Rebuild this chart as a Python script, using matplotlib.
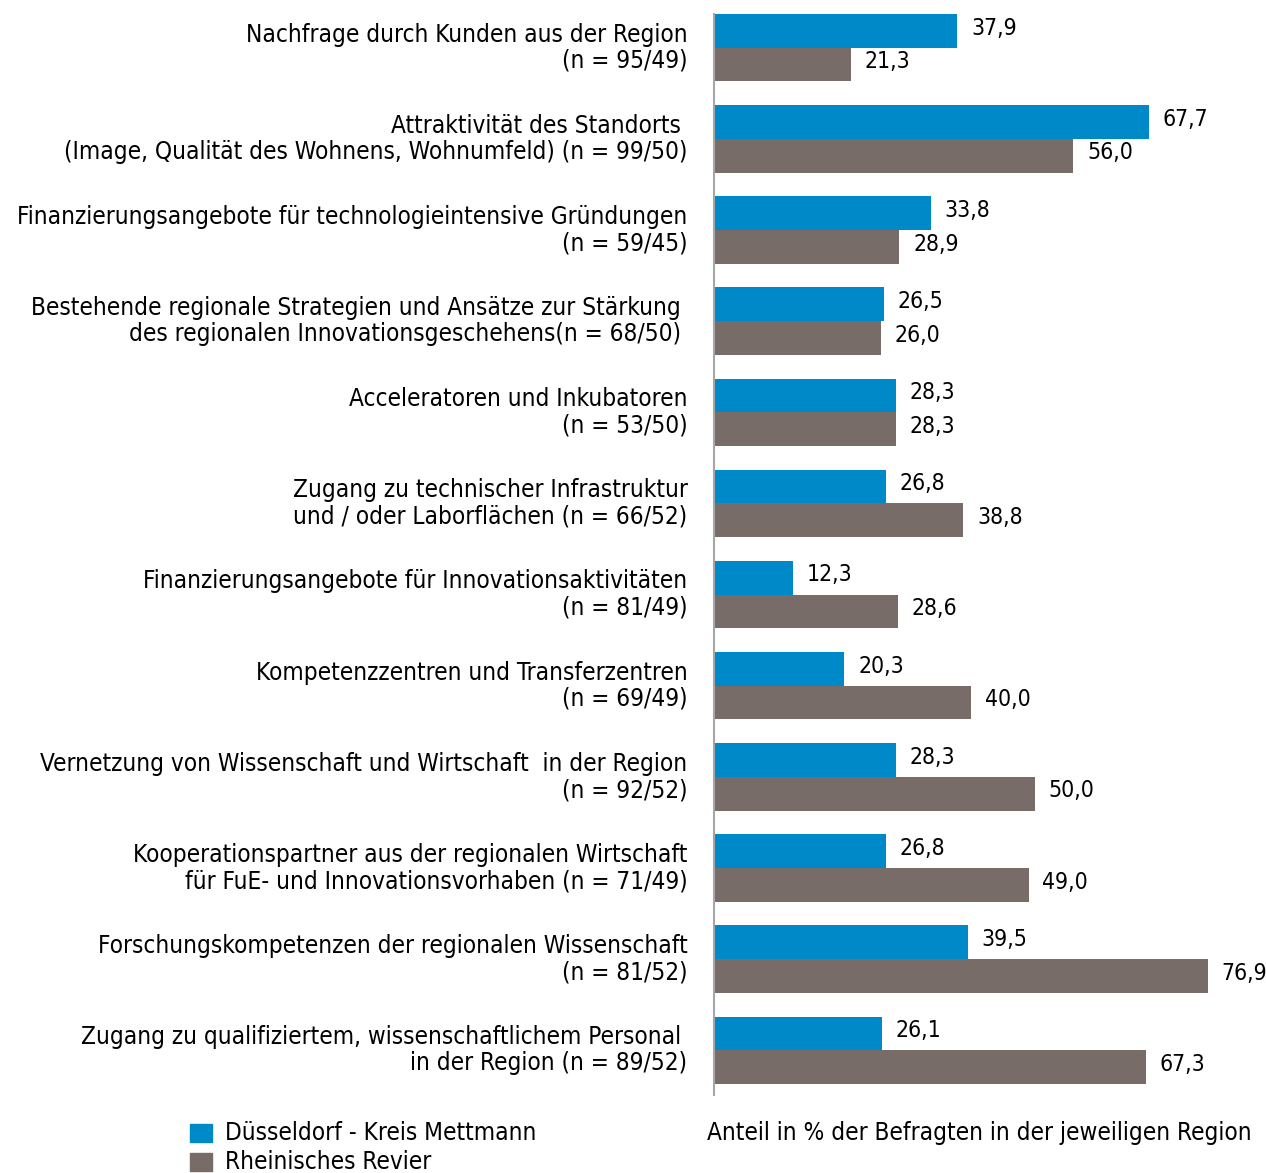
import numpy as np
from matplotlib import pyplot as plt
from matplotlib.patches import Rectangle

plt.rcParams['font.family'] = ['DejaVu Sans']
plt.rcParams['font.stretch'] = 'condensed'

categories = [
    "Nachfrage durch Kunden aus der Region\n(n = 95/49)",
    "Attraktivität des Standorts \n(Image, Qualität des Wohnens, Wohnumfeld) (n = 99/50)",
    "Finanzierungsangebote für technologieintensive Gründungen\n(n = 59/45)",
    "Bestehende regionale Strategien und Ansätze zur Stärkung \ndes regionalen Innovationsgeschehens(n = 68/50) ",
    "Acceleratoren und Inkubatoren\n(n = 53/50)",
    "Zugang zu technischer Infrastruktur\nund / oder Laborflächen (n = 66/52)",
    "Finanzierungsangebote für Innovationsaktivitäten\n(n = 81/49)",
    "Kompetenzzentren und Transferzentren\n(n = 69/49)",
    "Vernetzung von Wissenschaft und Wirtschaft  in der Region\n(n = 92/52)",
    "Kooperationspartner aus der regionalen Wirtschaft\nfür FuE- und Innovationsvorhaben (n = 71/49)",
    "Forschungskompetenzen der regionalen Wissenschaft\n(n = 81/52)",
    "Zugang zu qualifiziertem, wissenschaftlichem Personal \nin der Region (n = 89/52)",
]
duesseldorf = [37.9, 67.7, 33.8, 26.5, 28.3, 26.8, 12.3, 20.3, 28.3, 26.8, 39.5, 26.1]
rheinisch = [21.3, 56.0, 28.9, 26.0, 28.3, 38.8, 28.6, 40.0, 50.0, 49.0, 76.9, 67.3]
series_names = ["Düsseldorf - Kreis Mettmann", "Rheinisches Revier"]
x_label = "Anteil in % der Befragten in der jeweiligen Region"

blue = '#0089c9'
grey = '#776c68'
fs = 17.5
fs_val = 16.5

fig = plt.figure(figsize=(12.66, 11.73), dpi=100)
ax = fig.add_axes([714 / 1266, 1 - 1095 / 1173, 1 - 714 / 1266, (1095 - 14) / 1173])

h = 0.37
y = np.arange(len(categories))
ax.barh(y - h / 2, duesseldorf, height=h, color=blue)
ax.barh(y + h / 2, rheinisch, height=h, color=grey)

for i in range(len(categories)):
    for val, yy in ((duesseldorf[i], y[i] - h / 2), (rheinisch[i], y[i] + h / 2)):
        ax.annotate(f"{val:.1f}".replace('.', ','), (val, yy), xytext=(10, 2),
                    textcoords='offset points', ha='left', va='center', fontsize=fs_val)
    ax.annotate(categories[i], (0, y[i]), xytext=(-19, 0), textcoords='offset points',
                ha='right', va='center', multialignment='right', fontsize=fs,
                linespacing=1.12, annotation_clip=False)

ax.set_xlim(0, 86)
ax.set_ylim(11 + h + 0.12, -h)
for s in ('top', 'right', 'bottom'):
    ax.spines[s].set_visible(False)
ax.spines['left'].set_color('#a6a6a6')
ax.spines['left'].set_linewidth(1.5)
ax.set_xticks([])
ax.set_yticks([])

# legend drawn by hand
for k, (name, col) in enumerate(zip(series_names, [blue, grey])):
    yc = 1 - (1133 + k * 29) / 1173
    fig.patches.append(Rectangle((190 / 1266, yc - 9 / 1173), 22 / 1266, 18 / 1173,
                                 color=col, transform=fig.transFigure))
    fig.text(225 / 1266, yc, name, ha='left', va='center', fontsize=fs)

fig.text(707 / 1266, 1 - 1133 / 1173, x_label, ha='left', va='center', fontsize=fs)

fig.savefig('out.png', dpi=100)
